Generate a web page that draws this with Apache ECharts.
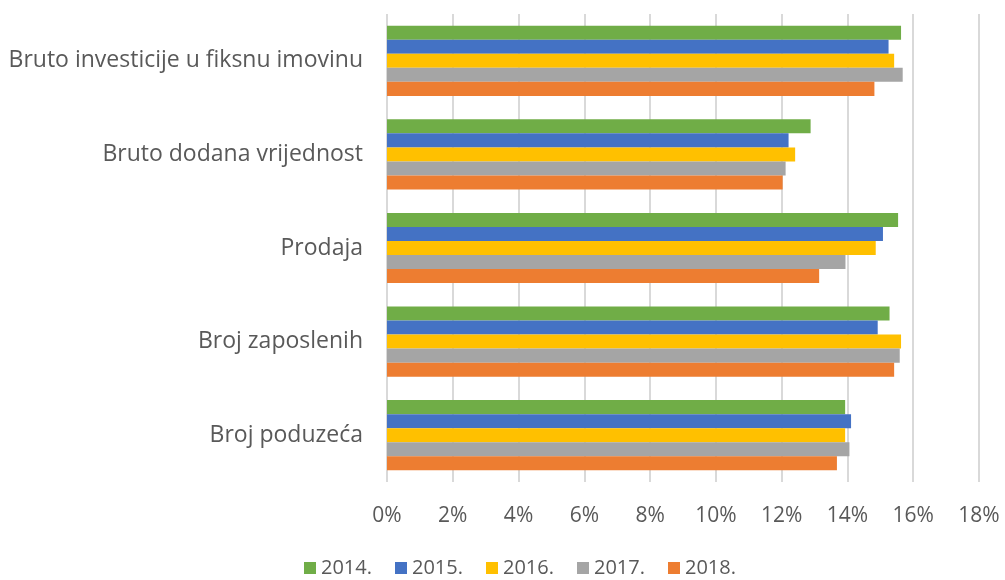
<!DOCTYPE html>
<html>
<head>
<meta charset="utf-8">
<script src="https://cdn.jsdelivr.net/npm/echarts@6/dist/echarts.min.js"></script>
<style>
  html, body { margin: 0; padding: 0; background: #fff; }
  #chart { width: 1005px; height: 580px; }
</style>
</head>
<body>
<div id="chart"></div>
<script>
// kategorije odozdo prema gore
const categories = ["Broj poduzeća", "Broj zaposlenih", "Prodaja", "Bruto dodana vrijednost", "Bruto investicije u fiksnu imovinu"];
const years = ["2014.", "2015.", "2016.", "2017.", "2018."];
const colors = ["#70ad47", "#4472c4", "#ffc000", "#a5a5a5", "#ed7d31"];

// udjeli u %
const y2014 = [13.93, 15.28, 15.54, 12.88, 15.63];
const y2015 = [14.11, 14.92, 15.08, 12.21, 15.25];
const y2016 = [13.93, 15.63, 14.86, 12.41, 15.42];
const y2017 = [14.06, 15.59, 13.94, 12.12, 15.68];
const y2018 = [13.68, 15.42, 13.14, 12.03, 14.82];
const values = [y2014, y2015, y2016, y2017, y2018];

const chart = echarts.init(document.getElementById("chart"));
const font = "Open Sans";

const series = years.map((y, i) => ({
  name: y,
  type: "bar",
  data: values[i],
  itemStyle: { color: colors[i] },
  barGap: "0%",
  barCategoryGap: "25%"
}));

chart.setOption({
  animation: false,
  textStyle: { fontFamily: font },
  grid: { left: 387, right: 26, top: 14, bottom: 98 },
  legend: {
    data: years,
    bottom: -3,
    left: 299,
    itemWidth: 12,
    itemHeight: 12,
    itemGap: 23,
    icon: "rect",
    textStyle: { fontSize: 20, color: "#595959", fontFamily: font }
  },
  xAxis: {
    type: "value",
    min: 0,
    max: 18,
    interval: 2,
    axisLine: { show: false },
    axisTick: { show: false },
    axisLabel: { formatter: "{value}%", fontSize: 21, color: "#595959", margin: 24 },
    splitLine: { lineStyle: { color: "#d9d9d9", width: 2 } }
  },
  yAxis: {
    type: "category",
    data: categories,
    axisLine: { show: false },
    axisTick: { show: false },
    axisLabel: { fontSize: 23, color: "#595959", margin: 24 }
  },
  series: series
});
</script>
</body>
</html>
